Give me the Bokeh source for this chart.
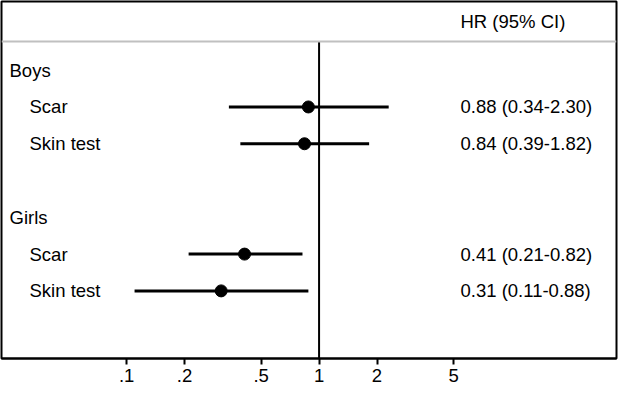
from bokeh.plotting import figure
from bokeh.models import Range1d, FixedTicker, Span, ColumnDataSource
from bokeh.core.properties import value
from bokeh.embed import file_html
from bokeh.resources import INLINE

# ---- data ----
header = "HR (95% CI)"
group_labels = ["Boys", "Girls"]
group_rows = [1, 5]
item_labels = ["Scar", "Skin test", "Scar", "Skin test"]
item_rows = [2, 3, 6, 7]
hr = [0.88, 0.84, 0.41, 0.31]
ci_lo = [0.34, 0.39, 0.21, 0.11]
ci_hi = [2.30, 1.82, 0.82, 0.88]
tick_values = [0.1, 0.2, 0.5, 1, 2, 5]
tick_labels = [".1", ".2", ".5", "1", "2", "5"]

# ---- layout constants ----
X_LO, X_HI = 0.02239, 35.1
Y_TOP, Y_BOTTOM = -0.867, 8.838
HEADER_ROW = -0.326
RULE_ROW = 0.222
TEXT_X = 5.43
FONT = "Liberation Sans"
FS = "18.5px"

p = figure(width=618, height=390, x_axis_type="log",
           x_range=Range1d(X_LO, X_HI), y_range=Range1d(Y_BOTTOM, Y_TOP),
           output_backend="svg", toolbar_location=None,
           y_axis_location=None,
           min_border_left=1, min_border_right=2, min_border_top=1,
           min_border_bottom=32)
p.background_fill_color = "white"
p.border_fill_color = "white"
p.outline_line_color = "black"
p.outline_line_width = 2
p.xgrid.visible = False
p.ygrid.visible = False

ax = p.xaxis[0]
ax.ticker = FixedTicker(ticks=tick_values, minor_ticks=[])
ax.major_label_overrides = {v: l for v, l in zip(tick_values, tick_labels)}
ax.axis_line_color = "black"
ax.axis_line_width = 2
ax.major_tick_line_color = "black"
ax.major_tick_line_width = 2
ax.major_tick_out = 6
ax.major_tick_in = 0
ax.minor_tick_line_color = None
ax.major_label_standoff = 4
ax.major_label_text_font = FONT
ax.major_label_text_font_size = FS
ax.major_label_text_color = "black"

# header rule
p.add_layout(Span(location=RULE_ROW, dimension="width",
                  line_color="#c0c0c0", line_width=2))
# reference line at HR = 1
p.segment(x0=[1], y0=[RULE_ROW], x1=[1], y1=[Y_BOTTOM],
          line_color="black", line_width=2)

src = ColumnDataSource(dict(
    y=item_rows, hr=hr, lo=ci_lo, hi=ci_hi, label=item_labels,
    txt=[f"{h:.2f} ({l:.2f}-{u:.2f})" for h, l, u in zip(hr, ci_lo, ci_hi)],
))

p.segment(x0="lo", y0="y", x1="hi", y1="y", source=src,
          line_color="black", line_width=3)
p.scatter(x="hr", y="y", source=src, size=12,
          fill_color="black", line_color="black")

p.text(x=X_LO, y="y", text="label", source=src, x_offset=28,
       text_font=value(FONT), text_font_size=value(FS),
       text_baseline="middle", text_align="left", text_color="black")
p.text(x=[X_LO] * len(group_labels), y=group_rows, text=group_labels,
       x_offset=8, text_font=value(FONT), text_font_size=value(FS),
       text_baseline="middle", text_align="left", text_color="black")
p.text(x=TEXT_X, y="y", text="txt", source=src,
       text_font=value(FONT), text_font_size=value(FS),
       text_baseline="middle", text_align="left", text_color="black")
p.text(x=[TEXT_X], y=[HEADER_ROW], text=[header],
       text_font=value(FONT), text_font_size=value(FS),
       text_baseline="middle", text_align="left", text_color="black")

open("out.html", "w").write(file_html(p, INLINE))
